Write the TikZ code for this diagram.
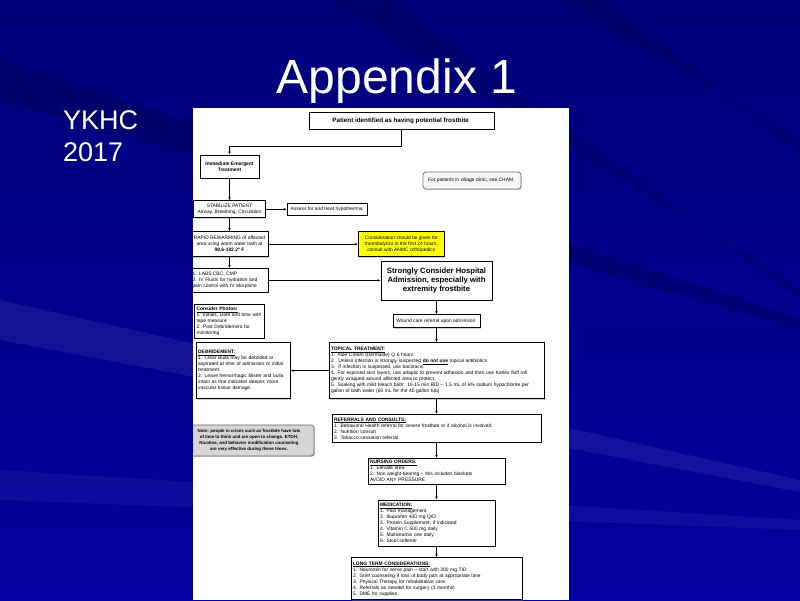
\documentclass[tikz,border=0pt]{standalone}
\usepackage{fontspec}
\setmainfont{Liberation Sans}
\usepackage{tikz}
\usetikzlibrary{arrows.meta,positioning,shadows}
\definecolor{slideblue}{HTML}{00009E}
\definecolor{slidedark}{HTML}{00007A}
\definecolor{notegray}{HTML}{D6D6D6}
\definecolor{alertyellow}{HTML}{FFFF00}
\newcommand{\chartsize}{\fontsize{4.9}{6}\selectfont}
\newcommand{\boxhead}[1]{\underline{\textbf{#1}}}
\tikzset{
  chartbox/.style={
    draw=black,
    fill=white,
    line width=0.8pt,
    font=\chartsize,
    inner xsep=2pt,
    inner ysep=1.5pt,
    drop shadow={shadow xshift=0.9pt,shadow yshift=-0.9pt,opacity=.35}
  },
  stepbox/.style={
    chartbox,
    align=center
  },
  listbox/.style={
    chartbox,
    align=left,
    text width=#1
  },
  alertbox/.style={
    stepbox,
    fill=alertyellow
  },
  titlebox/.style={
    stepbox,
    font=\bfseries\fontsize{6.3}{7.5}\selectfont
  },
  admitbox/.style={
    stepbox,
    font=\bfseries\fontsize{7.7}{9.3}\selectfont
  },
  infobox/.style={
    stepbox,
    rounded corners=3pt,
    draw=black!55,
    fill=black!3
  },
  notebox/.style={
    stepbox,
    rounded corners=3pt,
    draw=black!60,
    fill=notegray,
    font=\bfseries\fontsize{4.4}{5.8}\selectfont
  },
  flowarrow/.style={
    -{Latex[length=3pt,width=2.6pt]},
    line width=0.7pt,
    draw=black
  },
  slidetitle/.style={
    text=white,
    font=\fontsize{48}{56}\selectfont,
    inner sep=0pt,
    anchor=base
  },
  slidetag/.style={
    text=white,
    font=\fontsize{27}{32}\selectfont,
    inner sep=0pt,
    align=left,
    anchor=north west
  }
}

\begin{document}
\begin{tikzpicture}[x=1pt,y=-1pt]
    \useasboundingbox (0,0) rectangle (800,600);
    \fill[top color=slidedark,bottom color=slideblue] (0,0) rectangle (800,600);
    \fill[black,opacity=.15] (0,60) -- (0,100) -- (800,330) -- (800,318) -- cycle;
    \fill[black,opacity=.12] (330,0) -- (390,0) -- (800,300) -- (800,288) -- cycle;
    \fill[white,opacity=.07] (0,300) -- (0,340) -- (800,492) -- (800,480) -- cycle;
    \fill[white,opacity=.05] (0,470) -- (0,500) -- (800,530) -- (800,520) -- cycle;
    \fill[black,opacity=.12] (560,0) -- (600,0) -- (800,150) -- (800,140) -- cycle;

    \node[slidetitle] (title) at (397,93) {Appendix 1};
    \node[slidetag] (tag) at (63,110.5) {YKHC\\2017};

    \fill[white] (193,108) rectangle (569,600);

    \begin{scope}
    \clip (193,108) rectangle (569,600);

    \node[titlebox, minimum width=185pt, minimum height=17pt] (patient) at (401.5,120.5) {
        Patient identified as having potential frostbite
    };
    \node[stepbox, font=\chartsize\bfseries, minimum width=59pt, minimum height=23pt] (immediate) at (229.5,166.5) {
        Immediate Emergent\\Treatment
    };
    \node[infobox, minimum width=98pt, minimum height=17pt] (cham) at (472,180.5) {
        For patients in village clinic, see CHAM.
    };
    \node[stepbox, minimum width=72pt, minimum height=17pt, below=22pt of immediate] (stabilize) {
        STABILIZE PATIENT\\Airway, Breathing, Circulation
    };
    \node[stepbox, minimum width=80pt, minimum height=12pt, right=21pt of stabilize] (hypo) {
        Assess for and treat hypothermia
    };
    \node[stepbox, minimum width=78pt, minimum height=25pt, below=13pt of stabilize] (rewarm) {
        RAPID REWARMING of affected\\area using warm water bath at\\\textbf{98.6-102.2° F}
    };
    \node[alertbox, minimum width=86pt, minimum height=25pt, right=89pt of rewarm] (thromb) {
        Consideration should be given for\\thrombolytics in the first 24 hours,\\consult with ANMC orthopedics
    };
    \node[listbox=74pt, minimum height=24pt, below=11pt of rewarm] (labs) {
        1. LABS:CBC, CMP\\2. IV Fluids for hydration and\\pain control with IV Morphine
    };
    \node[admitbox, minimum width=111pt, minimum height=39pt] (admit) at (436.5,280.5) {
        Strongly Consider Hospital\\Admission, especially with\\extremity frostbite
    };
    \node[listbox=66pt, minimum height=34pt, below=11pt of labs] (photos) {
        \boxhead{Consider Photos:}\\1. Initials, Date and time with\\tape measure\\2. Post Debridement for\\monitoring
    };
    \node[stepbox, minimum width=87pt, minimum height=13pt, below=14pt of admit] (wound) {
        Wound care referral upon admission
    };
    \node[listbox=211pt, minimum height=56pt, below=14pt of wound] (topical) {
        \boxhead{TOPICAL TREATMENT:}\\
        1. Aloe Cream (Dermaide) Q 6 hours\\
        2.\ \ Unless infection is strongly suspected \boxhead{do not use} topical antibiotics\\
        3.\ \ If infection is suspected, use bacitracin\\
        4. For exposed skin layers, use adaptic to prevent adhesion and then use Kerlex fluff roll\\
        gently wrapped around affected area to protect.\\
        5. Soaking with mild bleach bath: 10-15 min BID -- 1.5 mL of 6\% sodium hypochlorite per\\
        gallon of bath water (60 mL for the 40 gallon tub)
    };
    \node[listbox=90pt, minimum height=56pt, left=38pt of topical] (debride) {
        \boxhead{DEBRIDEMENT:}\\
        1. Clear Bulla may be debrided or\\
        aspirated at time of admission or initial\\
        treatment.\\
        2. Leave hemorrhagic blister and bulla\\
        intact as that indicates deeper, more\\
        vascular tissue damage.
    };
    \node[listbox=205pt, minimum height=28pt, below=15pt of topical] (referrals) {
        \boxhead{REFERRALS AND CONSULTS:}\\
        1. Behavioral Health referral for severe frostbite or if alcohol is involved.\\
        2. Nutrition consult\\
        3. Tobacco cessation referral
    };
    \node[notebox, minimum width=130pt, minimum height=31pt] (note) at (249,440.5) {
        Note: people in crises such as frostbite have lots\\
        of time to think and are open to change. ETOH,\\
        Nicotine, and behavior modification counseling\\
        are very effective during these times.
    };
    \node[listbox=133pt, minimum height=26pt, below=15pt of referrals] (nursing) {
        \boxhead{NURSING ORDERS:}\\
        1. Elevate area\\
        2. Non weight-bearing -- this includes blankets\\
        AVOID ANY PRESSURE
    };
    \node[listbox=113pt, minimum height=46pt, below=15pt of nursing] (medication) {
        \boxhead{MEDICATION:}\\
        1. Pain management\\
        2. Ibuprofen 400 mg QID\\
        3. Protein Supplement, if indicated\\
        4. Vitamin C 500 mg daily\\
        5. Multivitamin one daily\\
        6. Stool softener
    };
    \node[listbox=167pt, minimum height=42pt, below=11pt of medication] (longterm) {
        \boxhead{LONG TERM CONSIDERATIONS:}\\
        1. Neurontin for nerve pain -- start with 300 mg TID\\
        2. Grief counseling if loss of body part at appropriate time\\
        3. Physical Therapy for rehabilitative care\\
        4. Referrals as needed for surgery (3 months)\\
        5. DME for supplies.
    };

    \draw[flowarrow] (patient.south) -- ++(0,17) -| (immediate.north);
    \draw[flowarrow] (immediate) -- (stabilize);
    \draw[flowarrow] (stabilize) -- (hypo);
    \draw[flowarrow] (stabilize) -- (rewarm);
    \draw[flowarrow] (rewarm) -- (thromb);
    \draw[flowarrow] (rewarm) -- (labs);
    \draw[flowarrow] (labs.east) -- (labs.east -| admit.west);
    \draw[flowarrow] (admit) -- (wound);
    \draw[flowarrow] (wound) -- (topical);
    \draw[flowarrow] (topical) -- (debride);
    \draw[flowarrow] (topical) -- (referrals);
    \draw[flowarrow] (referrals) -- (nursing);
    \draw[flowarrow] (nursing) -- (medication);
    \draw[flowarrow] (medication) -- (longterm);
    \end{scope}
\end{tikzpicture}
\end{document}
